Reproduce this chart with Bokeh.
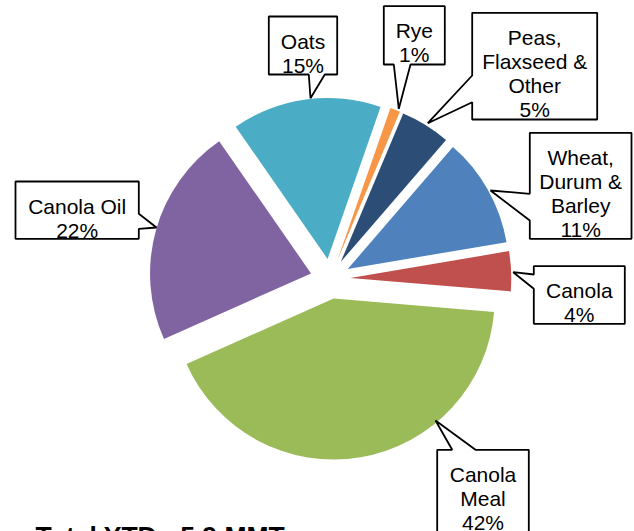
import math
from bokeh.plotting import figure
from bokeh.models import Range1d
from bokeh.core.properties import value
from bokeh.embed import file_html
from bokeh.resources import INLINE

# ---- data ----
categories = ["Wheat, Durum & Barley", "Canola", "Canola Meal", "Canola Oil", "Oats", "Rye", "Peas, Flaxseed & Other"]
label_names = ["Wheat,\nDurum &\nBarley", "Canola", "Canola\nMeal", "Canola Oil", "Oats", "Rye", "Peas,\nFlaxseed &\nOther"]
shares = [11, 4, 42, 22, 15, 1, 5]
colors = ["#4F81BD", "#C0504D", "#9BBB59", "#8064A2", "#4BACC6", "#F79646", "#2C4D75"]
title_text = "Total YTD - 5.9 MMT"

# ---- layout (image pixel coords, y downward) ----
W, H = 634, 531
OX, OY = 0, 0
CX, CY = 329.8, 278.3
R = 161
EXPLODE = 20
FIRST_ANGLE = 49.2  # degrees, math convention, slices go clockwise

# callouts: x0, y0, x1, y1, side, base1, base2, tipx, tipy
callouts = [
    (529.3, 132.3, 631.0, 238.3, "left", 193.3, 220.0, 490.0, 190.0),
    (533.3, 265.7, 624.3, 323.3, "left", 274.0, 288.3, 512.7, 271.7),
    (436.7, 449.3, 528.3, 560.0, "top", 451.7, 475.0, 435.0, 420.0),
    (15.0, 181.0, 138.3, 238.3, "right", 213.3, 228.3, 156.0, 227.0),
    (268.3, 16.0, 336.7, 74.0, "bottom", 308.3, 324.3, 310.0, 97.7),
    (383.3, 5.7, 444.3, 64.0, "bottom", 393.3, 410.0, 398.3, 108.3),
    (471.7, 12.3, 596.7, 119.0, "left", 75.0, 101.7, 427.3, 122.7),
]

p = figure(width=W, height=H, output_backend="svg", toolbar_location=None,
           x_range=Range1d(OX, OX + W), y_range=Range1d(-(OY + H), -OY),
           min_border=0)
p.axis.visible = False
p.grid.visible = False
p.outline_line_color = None
p.background_fill_color = "white"
p.border_fill_color = "white"

# ---- wedges ----
total = float(sum(shares))
start = FIRST_ANGLE
xs, ys, sa, ea = [], [], [], []
for v in shares:
    span = v / total * 360.0
    end = start - span
    mid = math.radians((start + end) / 2.0)
    xs.append(CX + EXPLODE * math.cos(mid))
    ys.append(-CY + EXPLODE * math.sin(mid))
    sa.append(math.radians(end))
    ea.append(math.radians(start))
    start = end

p.wedge(x=xs, y=ys, radius=R, start_angle=sa, end_angle=ea, direction="anticlock",
        fill_color=colors, line_color=None)

# ---- callouts ----
pxs, pys = [], []
tx, ty, tt = [], [], []
for i, (x0, y0, x1, y1, side, b1, b2, tpx, tpy) in enumerate(callouts):
    pts = [(x0, y0)]
    if side == "top":
        pts += [(b1, y0), (tpx, tpy), (b2, y0)]
    pts += [(x1, y0)]
    if side == "right":
        pts += [(x1, b1), (tpx, tpy), (x1, b2)]
    pts += [(x1, y1)]
    if side == "bottom":
        pts += [(b2, y1), (tpx, tpy), (b1, y1)]
    pts += [(x0, y1)]
    if side == "left":
        pts += [(x0, b2), (tpx, tpy), (x0, b1)]
    pxs.append([q[0] for q in pts])
    pys.append([-q[1] for q in pts])
    lines = label_names[i].split("\n") + ["%d%%" % shares[i]]
    for j, ln in enumerate(lines):
        tx.append((x0 + x1) / 2.0)
        ty.append(-(y0 + 24.5 + 24.0 * j))
        tt.append(ln)

p.patches(xs=pxs, ys=pys, fill_color="white", line_color="black", line_width=1.8)
p.text(x=tx, y=ty, text=tt, text_align="center", text_baseline="alphabetic",
       text_font=value("Liberation Sans"), text_font_size="21px", text_color="black")

p.text(x=[35], y=[-535.0], text=[title_text], text_align="left", text_baseline="alphabetic",
       text_font=value("Liberation Sans"), text_font_size="26.5px", text_font_style="bold",
       text_color="black")

open("out.html", "w").write(file_html(p, INLINE))
